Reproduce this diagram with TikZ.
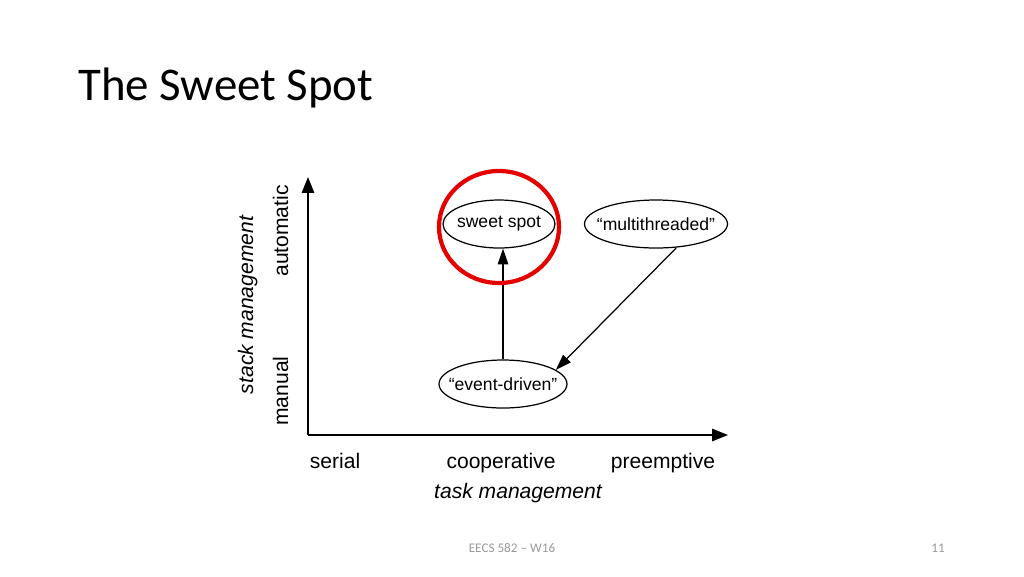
\documentclass[tikz,border=0pt]{standalone}
\usepackage{fontspec}
\setmainfont{Liberation Sans}
\newfontfamily\slidefont{Carlito}
\usetikzlibrary{shapes.geometric, arrows.meta, positioning}

\begin{document}
\begin{tikzpicture}[
    x=0.02cm, y=-0.02cm,
    state/.style={ellipse, draw, line width=0.7pt, inner xsep=-6pt, inner ysep=0pt, minimum height=0.96cm, font=\fontsize{10}{12}\selectfont},
    axis/.style={-{Triangle[length=9pt, width=7pt]}, line width=0.9pt},
    arrow/.style={-{Triangle[length=9pt, width=6pt]}, line width=0.7pt},
    tick/.style={font=\fontsize{12}{14}\selectfont, inner sep=0pt},
    axislabel/.style={font=\fontsize{12}{14}\selectfont\itshape, inner sep=0pt},
    slidetext/.style={inner sep=0pt, text=black!40, font=\slidefont\fontsize{7.5}{9}\selectfont}
]
    \useasboundingbox (0,0) rectangle (1024,576);

    % slide title and footer
    \node[anchor=base west, inner sep=0pt, font=\slidefont\fontsize{26.7}{32}\selectfont] (title) at (78,100) {The Sweet Spot};
    \node[slidetext] (footer) at (512,548) {EECS 582 – W16};
    \node[slidetext] (page) at (938,548) {11};

    % axes
    \coordinate (origin) at (308,435);
    \coordinate (ytip) at (308,177);
    \coordinate (xtip) at (728,435);
    \draw[axis] (origin) -- (ytip);
    \draw[axis] (origin) -- (xtip);

    \node[tick, anchor=base] (serial) at (335,468) {serial};
    \node[tick, anchor=base] (coop) at (501,468) {cooperative};
    \node[tick, anchor=base] (preempt) at (663,468) {preemptive};
    \node[axislabel, anchor=base] (taskmgmt) at (518,498) {task management};

    \node[tick, rotate=90, anchor=base] (automatic) at (288,231) {automatic};
    \node[tick, rotate=90, anchor=base] (manual) at (288,391) {manual};
    \node[axislabel, rotate=90, anchor=base] (stackmgmt) at (253,305) {stack management};

    % the three models
    \node[state, minimum width=2.24cm] (sweet) at (499,224) {sweet spot};
    \node[state, minimum width=2.86cm] (multi) at (656,224) {``multithreaded''};
    \node[state, minimum width=2.56cm] (event) at (503,384) {``event-driven''};

    \draw[arrow] (event.north) -- (event.north |- sweet.south);
    \draw[arrow] (multi.-49) -- (event.15);

    % highlight
    \draw[red!90!black, line width=2.4pt] (499,227) ellipse [x radius=60, y radius=56];
\end{tikzpicture}
\end{document}
